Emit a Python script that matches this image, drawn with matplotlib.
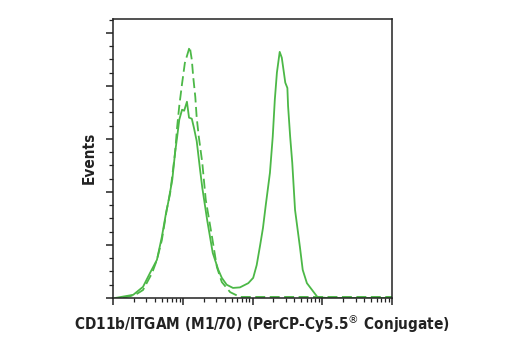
"""
Flow cytometry histogram: CD11b/ITGAM (M1/70) PerCP-Cy5.5 conjugate vs isotype control.
"""

import numpy as np
import matplotlib
matplotlib.use("Agg")
import matplotlib.pyplot as plt
from matplotlib.ticker import LogLocator, MultipleLocator, NullFormatter

# stained sample (solid) - log10 of fluorescence and event counts
stained_log = [1.03, 1.29, 1.43, 1.53, 1.63, 1.70, 1.76, 1.79, 1.85, 1.89,
               1.92, 1.95, 1.99, 2.02, 2.06, 2.09, 2.13, 2.16, 2.20, 2.25,
               2.28, 2.35, 2.43, 2.51, 2.56, 2.63, 2.72, 2.82, 2.94, 3.01,
               3.06, 3.11, 3.15, 3.19, 3.25, 3.29, 3.32, 3.35, 3.39, 3.42,
               3.45, 3.47, 3.50, 3.51, 3.54, 3.57, 3.61, 3.68, 3.72, 3.78,
               3.93, 4.07, 5.00]
stained_events = [0.00, 0.06, 0.21, 0.47, 0.72, 1.15, 1.60, 1.79, 2.23, 2.74,
                  3.04, 3.36, 3.55, 3.53, 3.70, 3.40, 3.38, 3.21, 2.96, 2.40,
                  2.08, 1.47, 0.85, 0.53, 0.38, 0.25, 0.19, 0.20, 0.28, 0.38,
                  0.62, 1.00, 1.32, 1.75, 2.36, 3.04, 3.74, 4.25, 4.64, 4.53,
                  4.25, 4.06, 3.96, 3.62, 3.04, 2.55, 1.66, 0.96, 0.53, 0.28,
                  0.02, 0.00, 0.00]

# isotype control (dashed)
control_log = [1.14, 1.32, 1.43, 1.56, 1.63, 1.70, 1.77, 1.82, 1.89, 1.92,
               1.95, 1.99, 2.03, 2.10, 2.13, 2.15, 2.18, 2.20, 2.23, 2.28,
               2.33, 2.42, 2.49, 2.56, 2.68, 2.82, 2.96, 5.00]
control_events = [0.00, 0.06, 0.15, 0.47, 0.72, 1.09, 1.66, 1.98, 2.74, 3.23,
                  3.62, 4.04, 4.43, 4.74, 4.49, 4.17, 3.79, 3.40, 3.04, 2.55,
                  1.85, 1.15, 0.58, 0.30, 0.11, 0.02, 0.02, 0.02]

GREEN = "#4cb847"
DARK = "#222222"

fig = plt.figure(figsize=(5.2, 3.5), dpi=100)
ax = fig.add_axes([113 / 520, 52 / 350, 279 / 520, 279 / 350])

ax.plot(10 ** np.array(stained_log), stained_events, color=GREEN, lw=1.3)
ax.plot(10 ** np.array(control_log), control_events, color=GREEN, lw=1.3,
        linestyle=(0, (5.5, 2.5)))

ax.set_xscale("log")
ax.set_xlim(10, 1e5)
ax.set_ylim(0, 5.26)

ax.xaxis.set_major_locator(LogLocator(base=10, numticks=10))
ax.xaxis.set_minor_locator(LogLocator(base=10, subs=np.arange(2, 10), numticks=20))
ax.xaxis.set_major_formatter(NullFormatter())
ax.xaxis.set_minor_formatter(NullFormatter())
ax.yaxis.set_major_locator(MultipleLocator(1))
ax.yaxis.set_minor_locator(MultipleLocator(0.25))
ax.yaxis.set_major_formatter(NullFormatter())

ax.tick_params(which="major", direction="out", length=5, width=1.1, color=DARK)
ax.tick_params(which="minor", direction="out", length=2.8, width=0.9, color=DARK)
ax.tick_params(top=False, right=False, which="both")
for s in ax.spines.values():
    s.set_linewidth(1.1)
    s.set_color(DARK)

fig.text(262 / 520, 1 - 324 / 350,
         r"CD11b/ITGAM (M1/70) (PerCP-Cy5.5$^{\circledR}$ Conjugate)",
         ha="center", va="center", fontsize=11, fontweight="bold",
         family="DejaVu Sans", fontstretch="condensed", color=DARK)
fig.text(89 / 520, 1 - 158 / 350, "Events", rotation=90,
         ha="center", va="center", fontsize=11, fontweight="bold",
         family="DejaVu Sans", fontstretch="condensed", color=DARK)

fig.savefig("out.png", dpi=100)
